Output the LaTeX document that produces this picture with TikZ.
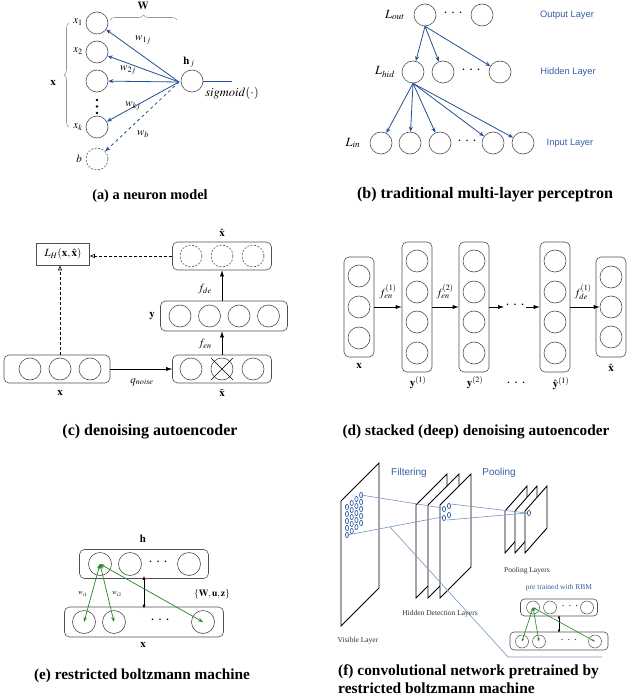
\documentclass[tikz,border=0pt]{standalone}
\usepackage{mathptmx}
\usepackage{fontspec}
\setmainfont{Liberation Serif}
\setsansfont{Liberation Sans}
\usetikzlibrary{arrows.meta,decorations.pathreplacing,calc}

\definecolor{netblue}{RGB}{36,80,148}
\definecolor{tagblue}{RGB}{52,96,168}
\definecolor{edge}{RGB}{80,80,80}
\definecolor{bracegrey}{RGB}{150,150,150}
\definecolor{rbmgreen}{RGB}{34,135,34}
\definecolor{rayblue}{RGB}{120,150,190}
\definecolor{capgrey}{RGB}{50,50,50}

% horizontal and vertical ellipses made of heavy dots
\newcommand{\hdots}{\textbf{.\hspace{5pt}.\hspace{5pt}.}}

\tikzset{
  unit/.style={circle,draw=edge,line width=0.6pt,minimum size=22pt,inner sep=0pt},
  ghost/.style={unit,dash pattern=on 2pt off 1.5pt},
  tinyunit/.style={circle,draw=edge,line width=0.5pt,minimum size=13pt,inner sep=0pt},
  layerbox/.style={draw=edge,line width=0.6pt,rounded corners=5pt,inner sep=0pt},
  wire/.style={netblue,line width=0.8pt,-{Stealth[length=5pt,width=4pt]}},
  flow/.style={black,line width=0.6pt,-{Latex[length=6pt,width=4pt]}},
  loss/.style={black,line width=0.6pt,dash pattern=on 3pt off 2pt,-{Triangle[open,length=5pt,width=4pt]}},
  pair/.style={rbmgreen,line width=0.7pt,{Stealth[length=5pt,width=3.5pt]}-{Stealth[length=5pt,width=3.5pt]}},
  smallpair/.style={rbmgreen,line width=0.6pt,{Stealth[length=3.5pt,width=2.5pt]}-{Stealth[length=3.5pt,width=2.5pt]}},
  link/.style={black,line width=0.6pt,{Latex[length=4pt,width=3pt]}-{Latex[length=4pt,width=3pt]}},
  sheet/.style={draw=black,line width=0.9pt,fill=white,line join=miter},
  cell/.style={draw=tagblue,line width=0.7pt},
  ray/.style={rayblue,line width=0.6pt},
  dot/.style={fill=black,circle,inner sep=0pt,minimum size=2.6pt},
  lbl/.style={font=\fontsize{11}{13}\selectfont,inner sep=1pt},
  small/.style={font=\fontsize{7}{9}\selectfont,inner sep=1pt},
  tag/.style={font=\sffamily\fontsize{9.3}{11}\selectfont,text=tagblue},
  bigtag/.style={font=\sffamily\fontsize{10}{12}\selectfont,text=tagblue},
  note/.style={font=\fontsize{7.5}{9}\selectfont,text=capgrey},
  caption/.style={font=\bfseries\fontsize{#1}{#1}\selectfont,inner sep=0pt},
  caption/.default=15,
  brace/.style={decorate,decoration={brace,amplitude=5pt},draw=bracegrey,line width=0.6pt},
}

\begin{document}
\begin{tikzpicture}[x=1pt,y=-1pt]
\fill[white] (0,0) rectangle (641,700);
\useasboundingbox (0,0) rectangle (641,700);

% ---------- (a) a neuron model ----------
\node[unit] (x1) at (97,23) {};
\node[unit] (x2) at (97,52) {};
\node[unit] (x3) at (97,81) {};
\node[unit] (xk) at (97,127) {};
\node[ghost] (xb) at (97,159) {};
\node[dot] (vd1) at (97,100) {};
\node[dot] (vd2) at (97,106.5) {};
\node[dot] (vd3) at (97,113) {};
\node[unit] (h) at (192,81) {};
\coordinate (hin) at (179,82);
\coordinate (hout) at (232,81);
\draw[wire] (hin) -- (x1);
\draw[wire] (hin) -- (x2);
\draw[wire] (hin) -- (x3);
\draw[wire] (hin) -- (xk);
\draw[wire,dashed] (hin) -- (xb);
\draw[netblue,line width=0.8pt] (h) -- (hout);
\draw[brace] (69,127) -- (69,23);
\draw[brace] (110,20) -- (177,20);
\node[lbl] at (78,22) {$x_1$};
\node[lbl] at (78,51) {$x_2$};
\node[lbl] at (78,127) {$x_k$};
\node[lbl] at (79,159) {$b$};
\node[lbl] at (53,83) {$\mathbf{x}$};
\node[lbl] at (143,6) {$\mathbf{W}$};
\node[lbl] at (189,62) {$\mathbf{h}_{\,j}$};
\node[lbl,font=\fontsize{12.5}{14}\selectfont] at (232,93) {$sigmoid(\cdot)$};
\node[lbl] at (143,40) {$w_{1j}$};
\node[lbl] at (128,70) {$w_{2j}$};
\node[lbl] at (133,106) {$w_{kj}$};
\node[lbl] at (143,134) {$w_b$};
\node[caption=14.3] at (150,196) {(a) a neuron model};

% ---------- (b) traditional multi-layer perceptron ----------
\node[unit] (o1) at (425,15) {};
\node[unit] (o2) at (482,15) {};
\node at (453,13) {\hdots};
\node[unit] (m1) at (413,72) {};
\node[unit] (m2) at (443,72) {};
\node[unit] (m3) at (500,72) {};
\node at (471,70) {\hdots};
\node[unit] (i1) at (381,143) {};
\node[unit] (i2) at (410,143) {};
\node[unit] (i3) at (440,143) {};
\node[unit] (i4) at (493,143) {};
\node[unit] (i5) at (523,143) {};
\node at (467,141) {\hdots};
\draw[wire] (o1.south) -- (m1);
\draw[wire] (o1.south) -- (m2);
\draw[wire] (o1.south) -- (m3);
\draw[wire] (m1.south) -- (i1);
\draw[wire] (m1.south) -- (i2);
\draw[wire] (m1.south) -- (i3);
\draw[wire] (m1.south) -- (i4);
\draw[wire] (m1.south) -- (i5);
\node[lbl,font=\fontsize{12.5}{14}\selectfont] at (395,15) {$L_{out}$};
\node[lbl,font=\fontsize{12.5}{14}\selectfont] at (385,72) {$L_{hid}$};
\node[lbl,font=\fontsize{12.5}{14}\selectfont] at (353,143) {$L_{in}$};
\node[tag] at (567,15) {Output Layer};
\node[tag] at (568,72) {Hidden Layer};
\node[tag] at (570,143) {Input Layer};
\node[caption=16] at (485,195) {(b) traditional multi-layer perceptron};

% ---------- (c) denoising autoencoder ----------
\node[draw=edge,line width=0.6pt,minimum width=53pt,minimum height=22pt,inner sep=1pt,font=\fontsize{11}{13}\selectfont] (loss) at (63,254) {$L_H(\mathbf{x},\hat{\mathbf{x}})$};
\node[layerbox,minimum width=99pt,minimum height=28pt] (rec) at (222,256) {};
\node[ghost] (r1) at (191,256) {};
\node[ghost] (r2) at (222,256) {};
\node[ghost] (r3) at (253,256) {};
\node[layerbox,minimum width=127pt,minimum height=30pt] (code) at (224,316) {};
\node[unit] (c1) at (180,316) {};
\node[unit] (c2) at (209.5,316) {};
\node[unit] (c3) at (239,316) {};
\node[unit] (c4) at (268.5,316) {};
\node[layerbox,minimum width=99pt,minimum height=28pt] (noisy) at (222,369) {};
\node[unit] (n1) at (191,369) {};
\node[unit] (n2) at (222,369) {};
\node[unit] (n3) at (253,369) {};
\draw[line width=0.6pt] ($(n2)+(-11,-11)$) -- ($(n2)+(11,11)$);
\draw[line width=0.6pt] ($(n2)+(-11,11)$) -- ($(n2)+(11,-11)$);
\node[layerbox,minimum width=106pt,minimum height=28pt] (clean) at (57,369) {};
\node[unit] (k1) at (30,369) {};
\node[unit] (k2) at (60,369) {};
\node[unit] (k3) at (90,369) {};
\draw[flow] (clean.east) -- (noisy.west);
\draw[flow] (n2.north |- noisy.north) -- (n2.north |- code.south);
\draw[flow] (r2.south |- code.north) -- (r2.south |- rec.south);
\draw[loss] (rec.west) -- (rec.west -| loss.east);
\draw[loss] (k2.north |- clean.north) -- (k2.north |- loss.south);
\node[lbl] at (222,233) {$\hat{\mathbf{x}}$};
\node[lbl] at (152,316) {$\mathbf{y}$};
\node[lbl] at (60,393) {$\mathbf{x}$};
\node[lbl] at (222,393) {$\tilde{\mathbf{x}}$};
\node[lbl] at (205,289) {$f_{de}$};
\node[lbl] at (205,344) {$f_{en}$};
\node[lbl] at (142,382) {$q_{noise}$};
\node[caption=16] at (150,432) {(c) denoising autoencoder};

% ---------- (d) stacked (deep) denoising autoencoder ----------
\node[layerbox,minimum width=30pt,minimum height=100pt] (dx) at (359,307) {};
\foreach \y [count=\i] in {276,307,338} \node[unit] (dx\i) at (359,\y) {};
\node[layerbox,minimum width=30pt,minimum height=130pt] (dy1) at (417,307) {};
\foreach \y [count=\i] in {261,292,322,353} \node[unit] (dya\i) at (417,\y) {};
\node[layerbox,minimum width=30pt,minimum height=130pt] (dy2) at (474,307) {};
\foreach \y [count=\i] in {261,292,322,353} \node[unit] (dyb\i) at (474,\y) {};
\node[layerbox,minimum width=30pt,minimum height=130pt] (dyh) at (555,307) {};
\foreach \y [count=\i] in {261,292,322,353} \node[unit] (dyc\i) at (555,\y) {};
\node[layerbox,minimum width=30pt,minimum height=100pt] (dxh) at (611,307) {};
\foreach \y [count=\i] in {277,307,337} \node[unit] (dxh\i) at (611,\y) {};
\node[inner sep=2pt] (dd) at (515,305) {\hdots};
\draw[flow] (dx.east) -- (dy1.west);
\draw[flow] (dy1.east) -- (dy2.west);
\draw[flow] (dy2.east) -- (dd.west |- dy2.east);
\draw[flow] (dd.east |- dyh.west) -- (dyh.west);
\draw[flow] (dyh.east) -- (dxh2.west);
\node[lbl] at (388,292) {$f^{(1)}_{en}$};
\node[lbl] at (445,292) {$f^{(2)}_{en}$};
\node[lbl] at (583,292) {$f^{(1)}_{de}$};
\node[lbl] at (359,366) {$\mathbf{x}$};
\node[lbl] at (418,383) {$\mathbf{y}^{(1)}$};
\node[lbl] at (475,383) {$\mathbf{y}^{(2)}$};
\node[lbl] at (561,384) {$\hat{\mathbf{y}}^{(1)}$};
\node[lbl] at (611,368) {$\hat{\mathbf{x}}$};
\node at (516,383) {\hdots};
\node[caption=15.3] at (476,432) {(d) stacked (deep) denoising autoencoder};

% ---------- (e) restricted boltzmann machine ----------
\node[layerbox,minimum width=129pt,minimum height=29pt] (hid) at (144,564) {};
\node[unit,minimum size=23pt] (hb1) at (100,564) {};
\node[unit,minimum size=23pt] (hb2) at (130,564) {};
\node[unit,minimum size=23pt] (hb3) at (189,564) {};
\node at (158,562) {\hdots};
\node[layerbox,minimum width=159pt,minimum height=30pt] (vis) at (144,622) {};
\node[unit,minimum size=23pt] (vb1) at (84,622) {};
\node[unit,minimum size=23pt] (vb2) at (114,622) {};
\node[unit,minimum size=23pt] (vb3) at (203,622) {};
\node at (160,620) {\hdots};
\draw[link,shorten <=-3pt,shorten >=-2pt] (hid.south) -- (vis.north);
\draw[pair] (hb1.center) -- (vb1.center);
\draw[pair] (hb1.center) -- (vb2.center);
\draw[pair] (hb1.center) -- (vb3.center);
\node[lbl] at (143,539) {$\mathbf{h}$};
\node[lbl] at (143,645) {$\mathbf{x}$};
\node[small] at (83,594) {$w_{i1}$};
\node[small] at (117,594) {$w_{i2}$};
\node[lbl,font=\fontsize{9.5}{11}\selectfont] at (212,594) {$\{\mathbf{W},\mathbf{u},\mathbf{z}\}$};
\node[caption=15.3] at (142,676) {(e) restricted boltzmann machine};

% ---------- (f) convolutional network pretrained by RBM ----------
% visible layer
\draw[sheet] (341,501) -- (379,463) -- (379,588) -- (341,626) -- cycle;
% hidden detection layers, back to front
\foreach \l in {416,428,440}
  \draw[sheet] (\l,505) -- ++(31,-31) -- ++(0,93) -- ++(-31,31) -- cycle;
% pooling layers, back to front
\foreach \l in {505,515,525}
  \draw[sheet] (\l,511) -- ++(22,-25) -- ++(0,42) -- ++(-22,25) -- cycle;
% receptive fields
\foreach \c in {0,...,3}
  \foreach \r in {0,...,4}
    \draw[cell] (347+4.7*\c,507-4*\c+7*\r) ellipse [x radius=1.6,y radius=2.6];
\foreach \p in {(444,509),(449,506),(444,518),(449,515)}
  \draw[cell] \p ellipse [x radius=1.6,y radius=2.6];
\draw[cell] (529,513) ellipse [x radius=1.6,y radius=2.6];
\draw[ray] (361,495) -- (442,508);
\draw[ray] (347,535) -- (442,517);
\draw[ray] (451,504) -- (527,513);
\draw[ray] (447,520) -- (527,513);
\draw[ray] (390,527) -- (508,657) -- (602,657);
\node[bigtag] at (409,473) {Filtering};
\node[bigtag] at (499,473) {Pooling};
\node[note] at (527,571) {Pooling Layers};
\node[note] at (440,614) {Hidden Detection Layers};
\node[note] at (358,641) {Visible Layer};
\node[note,text=tagblue] at (559,588) {pre trained with RBM};
% small RBM
\node[layerbox,rounded corners=4pt,minimum width=77pt,minimum height=17pt] (thid) at (559,607.5) {};
\node[tinyunit] (tb1) at (533,607.5) {};
\node[tinyunit] (tb2) at (550,607.5) {};
\node[tinyunit] (tb3) at (587,607.5) {};
\node[font=\fontsize{7}{8}\selectfont] at (570,606) {\hdots};
\node[layerbox,rounded corners=4pt,minimum width=98pt,minimum height=18pt] (tvis) at (559,641) {};
\node[tinyunit] (tv1) at (522,641.5) {};
\node[tinyunit] (tv2) at (539,641.5) {};
\node[tinyunit] (tv3) at (595,641.5) {};
\node[font=\fontsize{7}{8}\selectfont] at (569,640) {\hdots};
\draw[black,line width=0.5pt,{Latex[length=3pt,width=2.5pt]}-{Latex[length=3pt,width=2.5pt]},shorten <=-1pt,shorten >=-1pt] (thid.south) -- (tvis.north);
\draw[smallpair] (tb1.center) -- (tv1.center);
\draw[smallpair] (tb1.center) -- (tv2.center);
\draw[smallpair] (tb1.center) -- (tv3.center);
\node[caption=15.4,align=left,anchor=west,font=\bfseries\fontsize{15.4}{18}\selectfont] at (338,679) {(f) convolutional network pretrained by\\restricted boltzmann machine};
\end{tikzpicture}
\end{document}
